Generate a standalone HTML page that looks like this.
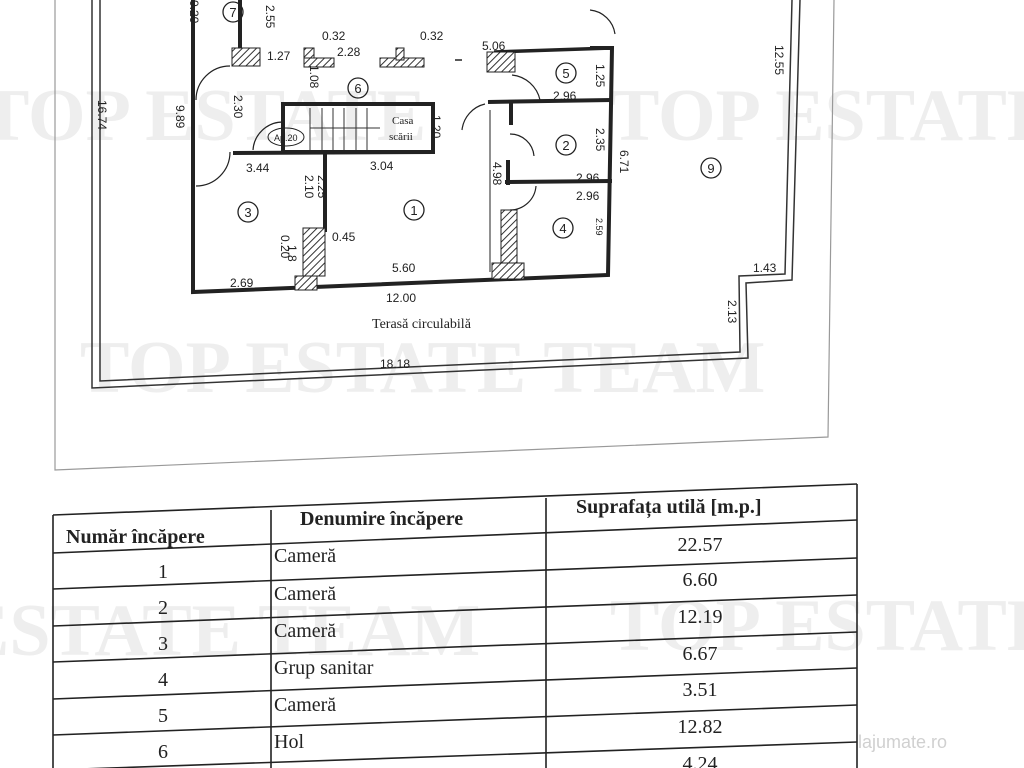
<!DOCTYPE html>
<html><head><meta charset="utf-8"><style>
html,body{margin:0;padding:0;background:#fff;}
svg{display:block;}
text{font-family:"Liberation Sans",sans-serif;fill:#222;}
text.s,.tbl text{font-family:"Liberation Serif",serif;}
text.wm{font-family:"Liberation Serif",serif;font-weight:bold;fill:#eeeeee;font-size:74px;}
</style></head><body>
<svg width="1024" height="768" viewBox="0 0 1024 768" xmlns="http://www.w3.org/2000/svg">
<defs>
<pattern id="h" width="5" height="5" patternUnits="userSpaceOnUse" patternTransform="rotate(45)">
<rect width="5" height="5" fill="#fff"/><line x1="0" y1="0" x2="0" y2="5" stroke="#333" stroke-width="2"/></pattern>
</defs>
<!-- watermarks -->
<text class="wm" x="-20" y="140">TOP ESTATE</text>
<text class="wm" x="610" y="140">TOP ESTATE</text>
<text class="wm" x="80" y="392">TOP ESTATE TEAM</text>
<text class="wm" x="-40" y="655">ESTATE TEAM</text>
<text class="wm" x="610" y="650">TOP ESTATE</text>

<!-- paper border -->
<polyline points="55,0 55,470 828,437 834,0" fill="none" stroke="#999" stroke-width="1.2"/>

<!-- terrace double outline -->
<polyline points="92,0 92,388 748,358 746,283 792,280 800,0" fill="none" stroke="#333" stroke-width="1.5"/>
<polyline points="100,0 100,381 740,352 739,276 785,274 792,0" fill="none" stroke="#333" stroke-width="1.5"/>

<!-- building outer walls -->
<polyline points="193,0 193,292 608,275 612,48 590,48" fill="none" stroke="#222" stroke-width="4"/>
<line x1="494" y1="52" x2="612" y2="48" stroke="#222" stroke-width="3.5"/>

<!-- room 7 -->
<line x1="240" y1="0" x2="240" y2="60" stroke="#222" stroke-width="4"/>
<rect x="232" y="48" width="28" height="18" fill="url(#h)" stroke="#222"/>
<rect x="304" y="48" width="10" height="18" fill="url(#h)" stroke="#222"/>
<rect x="304" y="58" width="30" height="9" fill="url(#h)" stroke="#222"/>
<rect x="380" y="58" width="44" height="9" fill="url(#h)" stroke="#222"/>
<rect x="396" y="48" width="8" height="12" fill="url(#h)" stroke="#222"/>
<rect x="487" y="52" width="28" height="20" fill="url(#h)" stroke="#222"/>
<line x1="455" y1="60" x2="462" y2="60" stroke="#222" stroke-width="1.5"/>

<!-- stair -->
<rect x="283" y="104" width="150" height="48" fill="none" stroke="#222" stroke-width="4"/>
<g stroke="#333" stroke-width="1"><line x1="310" y1="108" x2="310" y2="150"/><line x1="322" y1="108" x2="322" y2="150"/><line x1="333" y1="108" x2="333" y2="150"/><line x1="344" y1="108" x2="344" y2="150"/><line x1="356" y1="108" x2="356" y2="150"/><line x1="367" y1="108" x2="367" y2="150"/><line x1="310" y1="128" x2="380" y2="128"/></g>
<text class="s" x="392" y="124" font-size="11">Casa</text>
<text class="s" x="389" y="140" font-size="11">scării</text>
<ellipse cx="286" cy="137" rx="18" ry="9" fill="none" stroke="#222"/>
<text x="274" y="141" font-size="9">Ap.20</text>
<!-- wall under stair -->
<line x1="233" y1="153" x2="433" y2="152" stroke="#222" stroke-width="4"/>
<line x1="325" y1="153" x2="325" y2="232" stroke="#222" stroke-width="4"/>
<rect x="303" y="228" width="22" height="48" fill="url(#h)" stroke="#222"/>
<rect x="295" y="276" width="22" height="14" fill="url(#h)" stroke="#222"/>
<!-- right rooms -->
<line x1="488" y1="102" x2="612" y2="100" stroke="#222" stroke-width="4"/>
<line x1="505" y1="182" x2="612" y2="181" stroke="#222" stroke-width="4"/>
<line x1="511" y1="102" x2="511" y2="125" stroke="#222" stroke-width="4"/>
<line x1="508" y1="160" x2="508" y2="185" stroke="#222" stroke-width="4"/>
<rect x="501" y="210" width="16" height="56" fill="url(#h)" stroke="#222"/>
<rect x="492" y="263" width="32" height="16" fill="url(#h)" stroke="#222"/>
<line x1="490" y1="110" x2="490" y2="272" stroke="#222" stroke-width="1"/>
<!-- doors arcs -->
<g fill="none" stroke="#222" stroke-width="1.2">
<path d="M196,100 A34,34 0 0 1 230,66"/><path d="M196,186 A34,34 0 0 0 230,152"/>
<path d="M253,150 A30,30 0 0 1 283,122"/><path d="M462,130 A30,30 0 0 1 485,104"/>
<path d="M512,75 A32,32 0 0 1 540,100"/><path d="M510,134 A24,24 0 0 1 534,156"/>
<path d="M510,210 A26,26 0 0 0 536,186"/><path d="M590,10 A28,28 0 0 1 615,34"/>
</g>
<!-- room numbers -->
<g fill="none" stroke="#222" stroke-width="1.3">
<circle cx="233" cy="12" r="10"/><circle cx="358" cy="88" r="10"/><circle cx="566" cy="73" r="10"/>
<circle cx="566" cy="145" r="10"/><circle cx="248" cy="212" r="10"/><circle cx="414" cy="210" r="10"/>
<circle cx="563" cy="228" r="10"/><circle cx="711" cy="168" r="10"/>
</g>
<g font-size="13" text-anchor="middle">
<text x="233" y="17">7</text><text x="358" y="93">6</text><text x="566" y="78">5</text><text x="566" y="150">2</text>
<text x="248" y="217">3</text><text x="414" y="215">1</text><text x="563" y="233">4</text><text x="711" y="173">9</text>
</g>
<!-- dimensions -->
<g font-size="12">
<text x="267" y="60">1.27</text><text x="337" y="56">2.28</text><text x="322" y="40">0.32</text><text x="420" y="40">0.32</text>
<text x="482" y="50">5.06</text><text x="553" y="100">2.96</text><text x="576" y="182">2.96</text><text x="576" y="200">2.96</text>
<text x="246" y="172">3.44</text><text x="370" y="170">3.04</text><text x="332" y="241">0.45</text>
<text x="392" y="272">5.60</text><text x="230" y="287">2.69</text><text x="386" y="302">12.00</text>
<text x="753" y="272">1.43</text><text x="380" y="368">18.18</text>
</g>
<text class="s" x="372" y="328" font-size="14">Terasă circulabilă</text>
<g font-size="12">
<text transform="translate(266,5) rotate(90)">2.55</text>
<text transform="translate(190,0) rotate(90)">0.20</text>
<text transform="translate(234,95) rotate(90)">2.30</text>
<text transform="translate(176,105) rotate(90)">9.89</text>
<text transform="translate(98,100) rotate(90)">16.74</text>
<text transform="translate(310,65) rotate(90)">1.08</text>
<text transform="translate(432,115) rotate(90)">1.20</text>
<text transform="translate(305,175) rotate(90)">2.10</text>
<text transform="translate(318,175) rotate(90)">2.25</text>
<text transform="translate(281,235) rotate(90)">0.20</text>
<text transform="translate(288,245) rotate(90)">1.8</text>
<text transform="translate(493,162) rotate(90)">4.98</text>
<text transform="translate(596,64) rotate(90)">1.25</text>
<text transform="translate(596,128) rotate(90)">2.35</text>
<text transform="translate(620,150) rotate(90)">6.71</text>
<text transform="translate(596,218) rotate(90)" font-size="9">2.59</text>
<text transform="translate(775,45) rotate(90)">12.55</text>
<text transform="translate(728,300) rotate(90)">2.13</text>
</g>

<!-- table -->
<g stroke="#222" stroke-width="1.6" fill="none">
<polyline points="53,515 53,768"/><polyline points="271,510 271,768"/><polyline points="546,498 546,768"/><polyline points="857,484 857,768"/>
<line x1="53" y1="515" x2="857" y2="484"/>
<line x1="53" y1="553" x2="857" y2="520"/>
<line x1="53" y1="589" x2="857" y2="558"/>
<line x1="53" y1="626" x2="857" y2="595"/>
<line x1="53" y1="662" x2="857" y2="632"/>
<line x1="53" y1="699" x2="857" y2="668"/>
<line x1="53" y1="735" x2="857" y2="705"/>
<line x1="53" y1="770" x2="857" y2="742"/>
</g>
<g class="tbl" font-size="20">
<text x="66" y="543" font-weight="bold">Număr încăpere</text>
<text x="300" y="525" font-weight="bold">Denumire încăpere</text>
<text x="576" y="513" font-weight="bold">Suprafața utilă [m.p.]</text>
<g text-anchor="middle">
<text x="163" y="578">1</text><text x="163" y="614">2</text><text x="163" y="650">3</text><text x="163" y="686">4</text><text x="163" y="722">5</text><text x="163" y="758">6</text>
<text x="700" y="551">22.57</text><text x="700" y="586">6.60</text><text x="700" y="623">12.19</text><text x="700" y="660">6.67</text><text x="700" y="696">3.51</text><text x="700" y="733">12.82</text><text x="700" y="770">4.24</text>
</g>
<text x="274" y="562">Cameră</text><text x="274" y="600">Cameră</text><text x="274" y="637">Cameră</text><text x="274" y="674">Grup sanitar</text><text x="274" y="711">Cameră</text><text x="274" y="748">Hol</text>
</g>
<text x="858" y="748" font-size="18" fill="#d0d0d0" style="fill:#d0d0d0">lajumate.ro</text>
</svg>
</body></html>
